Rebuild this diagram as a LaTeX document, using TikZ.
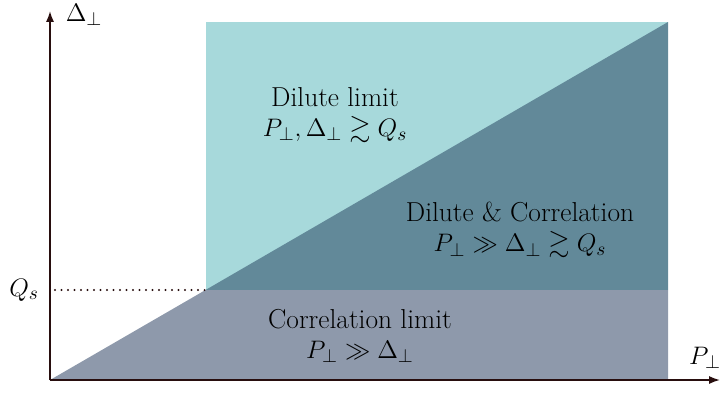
\documentclass[tikz,border=0pt]{standalone}
\usepackage{amssymb}
\usetikzlibrary{arrows.meta}

\definecolor{dilutecol}{RGB}{167,217,219}
\definecolor{bothcol}{RGB}{98,137,153}
\definecolor{corrcol}{RGB}{142,153,171}
\definecolor{axiscol}{RGB}{40,14,14}

\tikzset{
  axis/.style={draw=axiscol, line width=1pt, -{Latex[length=6.2pt,width=4.6pt]}},
  regionlabel/.style={align=center, font=\fontsize{15.6}{17}\selectfont},
  axislabel/.style={font=\fontsize{15.6}{17}\selectfont}
}

\begin{document}
\begin{tikzpicture}[scale=1]
  \useasboundingbox (-1,-0.3) rectangle (13.5,7.6);

  % Corners of the regions
  \coordinate (O) at (0,0);
  \coordinate (qcorner) at (3.11,1.8);
  \coordinate (topright) at (12.36,7.16);
  \coordinate (qright) at (12.36,1.8);
  \coordinate (botright) at (12.36,0);

  % Dilute limit (upper rectangle)
  \fill[dilutecol] (qcorner) rectangle (topright);

  % Dilute & Correlation (below the diagonal)
  \fill[bothcol] (qcorner) -- (topright) -- (qright) -- cycle;

  % Correlation limit (bottom strip)
  \fill[corrcol] (O) -- (qcorner) -- (qright) -- (botright) -- cycle;

  % Coordinate axes
  \coordinate (xend) at (13.4,0);
  \coordinate (yend) at (0,7.38);
  \draw[axis] (O) -- (xend);
  \draw[axis] (O) -- (yend);
  \node[axislabel] (xlab) at (13.1,0.44) {$P_\perp$};
  \node[axislabel] (ylab) at (0.68,7.3) {$\Delta_\perp$};

  % Saturation scale on the y-axis
  \node[axislabel, left] (qs) at (-0.1,1.8) {$Q_s$};
  \coordinate (qstart) at (0.1,1.8);
  \draw[axiscol, line width=1.2pt, line cap=round, dash pattern=on 0pt off 3.7pt] (qstart) -- (qcorner);

  % Region labels
  \node[regionlabel] (dilute) at (5.7,5.3) {Dilute limit\\ $P_\perp,\Delta_\perp \gtrsim Q_s$};
  \node[regionlabel] (both) at (9.4,3.0) {Dilute \& Correlation\\ $P_\perp \gg \Delta_\perp \gtrsim Q_s$};
  \node[regionlabel] (corr) at (6.2,0.88) {Correlation limit\\ $P_\perp \gg \Delta_\perp$};
\end{tikzpicture}
\end{document}
